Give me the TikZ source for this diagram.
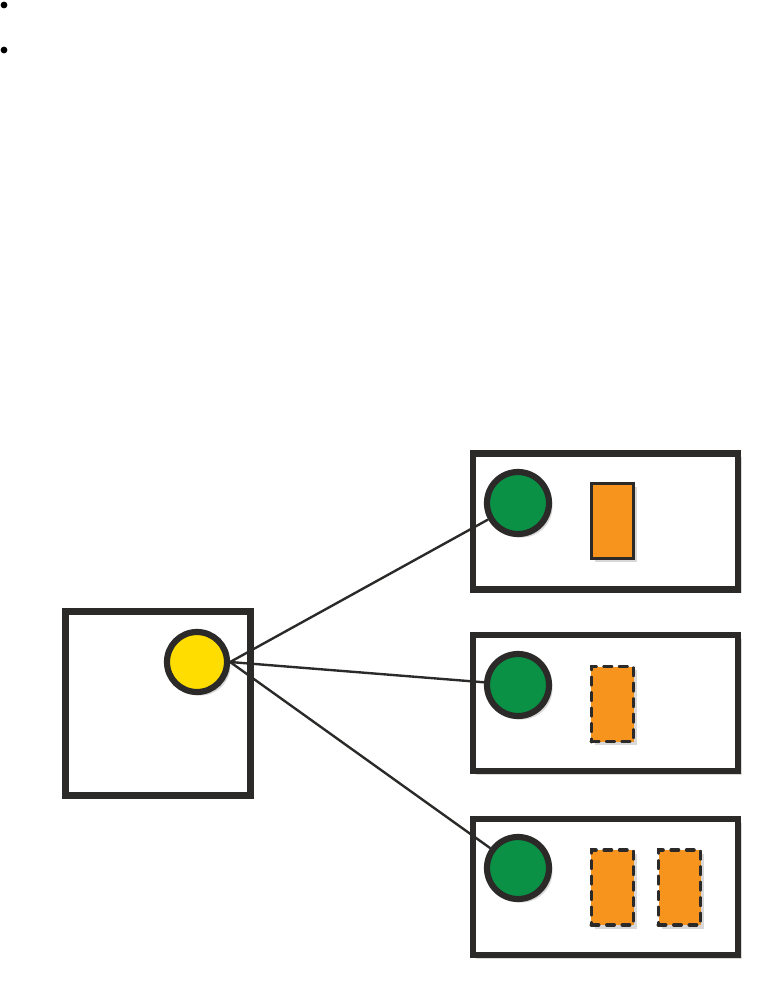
\documentclass[tikz,border=0pt]{standalone}
\usepackage{xcolor}
\usepackage{tikz}
\usetikzlibrary{arrows.meta,shadows}

\definecolor{inkdark}{HTML}{2B2A29}
\definecolor{boxgreen}{HTML}{0A9145}
\definecolor{boxyellow}{HTML}{FFDD00}
\definecolor{boxorange}{HTML}{F7941E}

\begin{document}
\begin{tikzpicture}[x=0.025cm,y=-0.025cm,
  frame/.style={rectangle,draw=inkdark,fill=white,line width=4.4pt,inner sep=0pt,
    drop shadow={shadow xshift=2.5pt,shadow yshift=-2.5pt,opacity=0.3}},
  ball/.style={circle,draw=inkdark,line width=4.4pt,inner sep=0pt,
    drop shadow={shadow xshift=2.5pt,shadow yshift=-2.5pt,opacity=0.3}},
  slot/.style={rectangle,draw=inkdark,fill=boxorange,inner sep=0pt,
    minimum width=1.05cm,minimum height=1.875cm,line width=2.8pt,
    drop shadow={shadow xshift=2.5pt,shadow yshift=-2.5pt,opacity=0.3}},
  dashslot/.style={slot,line cap=round,dash pattern=on 5pt off 6pt},
  link/.style={draw=inkdark,line width=1.7pt}]
  \useasboundingbox (0,0) rectangle (771,988);
  % bullets
  \node[circle,fill=black,inner sep=0pt,minimum size=0.17cm] (b1) at (4,5) {};
  \node[circle,fill=black,inner sep=0pt,minimum size=0.17cm] (b2) at (4,50) {};
  % source box
  \node[frame,minimum width=4.625cm,minimum height=4.6cm] (src) at (158,703.5) {};
  \node[ball,fill=boxyellow,minimum size=1.5cm] (yel) at (197,662) {};
  % target boxes
  \node[frame,minimum width=6.625cm,minimum height=3.4cm] (t1) at (605.5,521.5) {};
  \node[frame,minimum width=6.625cm,minimum height=3.4cm] (t2) at (605.5,703) {};
  \node[frame,minimum width=6.625cm,minimum height=3.4cm] (t3) at (605.5,887) {};
  \node[ball,fill=boxgreen,minimum size=1.55cm] (g1) at (518,503) {};
  \node[ball,fill=boxgreen,minimum size=1.55cm] (g2) at (518,685) {};
  \node[ball,fill=boxgreen,minimum size=1.55cm] (g3) at (518,868) {};
  \node[slot] (o1) at (612.5,521) {};
  \node[dashslot] (o2) at (612.5,704) {};
  \node[dashslot] (o3) at (612.5,887.5) {};
  \node[dashslot] (o4) at (679.5,887.5) {};
  % connectors
  \draw[link] (yel.east) -- (g1);
  \draw[link] (yel.east) -- (g2);
  \draw[link] (yel.east) -- (g3);
\end{tikzpicture}
\end{document}
